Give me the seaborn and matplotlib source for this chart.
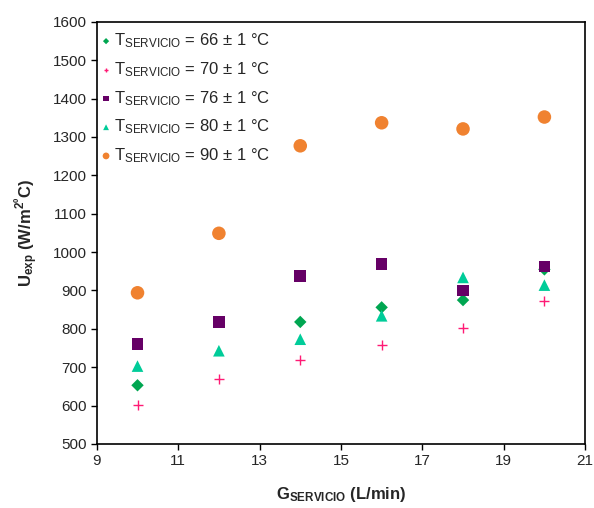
import matplotlib
matplotlib.use("Agg")
import matplotlib.pyplot as plt
import seaborn as sns
import numpy as np
import pandas as pd

sns.set_style("ticks")
plt.rcParams['font.family'] = ['Liberation Sans', 'DejaVu Sans']
plt.rcParams['mathtext.fontset'] = 'custom'
plt.rcParams['mathtext.rm'] = 'Liberation Sans'
plt.rcParams['mathtext.it'] = 'Liberation Sans'
plt.rcParams['mathtext.bf'] = 'Liberation Sans:bold'

flow = [10, 12, 14, 16, 18, 20]
u_66 = [653, np.nan, 818, 856, 875, 955]
u_70 = [602, 669, 720, 757, 801, 872]
u_76 = [760, 818, 938, 969, 900, 962]
u_80 = [703, 743, 773, 834, 934, 914]
u_90 = [894, 1049, 1277, 1337, 1321, 1352]

labels = [r"T$_{\mathrm{SERVICIO}}$ = 66 ± 1 °C",
          r"T$_{\mathrm{SERVICIO}}$ = 70 ± 1 °C",
          r"T$_{\mathrm{SERVICIO}}$ = 76 ± 1 °C",
          r"T$_{\mathrm{SERVICIO}}$ = 80 ± 1 °C",
          r"T$_{\mathrm{SERVICIO}}$ = 90 ± 1 °C"]
series = [u_66, u_70, u_76, u_80, u_90]
colors = ["#00A651", "#FF1A75", "#660066", "#00CC99", "#F08230"]
markers = ["D", "+", "s", "^", "o"]
sizes = [40, 50, 70, 70, 95]

fig = plt.figure(figsize=(5.94, 5.08), dpi=100)
ax = fig.add_axes([0.163, 0.126, 0.822, 0.831])

for lab, vals, c, m, s in zip(labels, series, colors, markers, sizes):
    df = pd.DataFrame({"G": flow, "U": vals})
    if m == "+":
        sns.scatterplot(data=df, x="G", y="U", ax=ax, marker="+", s=s, color=c,
                        linewidth=1.0, label=lab)
    else:
        sns.scatterplot(data=df, x="G", y="U", ax=ax, marker=m, s=s, color=c,
                        edgecolor="none", linewidth=0, label=lab)

ax.set_xlim(9, 21)
ax.set_ylim(500, 1600)
ax.set_xticks(np.arange(9, 22, 2))
ax.set_yticks(np.arange(500, 1601, 100))
ax.tick_params(axis='both', labelsize=11, direction='out', length=4, width=1, color='black')
for sp in ax.spines.values():
    sp.set_visible(True)
    sp.set_color('black')
    sp.set_linewidth(1.2)

ax.set_xlabel(r"$\mathbf{G_{SERVICIO}}$ (L/min)", fontsize=12, fontweight='bold', labelpad=12)
ax.set_ylabel(r"$\mathbf{U_{exp}}$ (W/m$^{\mathbf{2º}}$C)", fontsize=12, fontweight='bold', labelpad=8)

leg = ax.legend(loc='upper left', bbox_to_anchor=(-0.005, 0.985), frameon=False,
                fontsize=12, markerscale=0.5,
                handletextpad=0.0, labelspacing=0.6, borderaxespad=0.0,
                borderpad=0.2, handlelength=1.0)

fig.savefig("out.png", dpi=100)
